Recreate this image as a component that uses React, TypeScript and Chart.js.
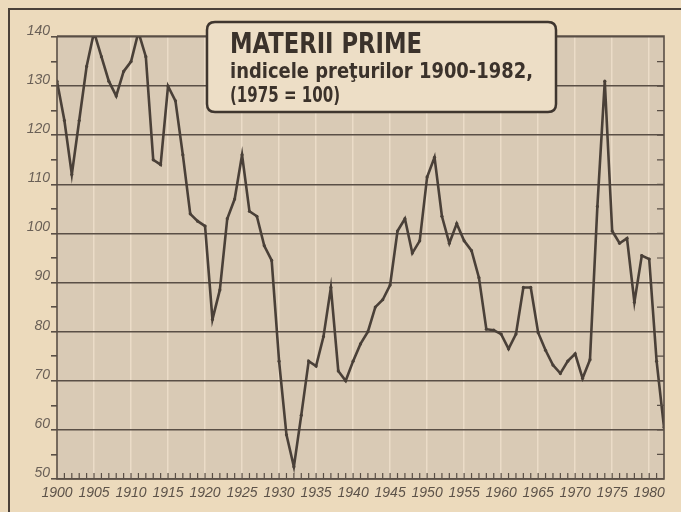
import React, { useEffect, useRef } from "react";
import { Chart, registerables } from "chart.js";

Chart.register(...registerables);

const years: number[] = [
  1900, 1901, 1902, 1903, 1904, 1905, 1906, 1907, 1908, 1909,
  1910, 1911, 1912, 1913, 1914, 1915, 1916, 1917, 1918, 1919,
  1920, 1921, 1922, 1923, 1924, 1925, 1926, 1927, 1928, 1929,
  1930, 1931, 1932, 1933, 1934, 1935, 1936, 1937, 1938, 1939,
  1940, 1941, 1942, 1943, 1944, 1945, 1946, 1947, 1948, 1949,
  1950, 1951, 1952, 1953, 1954, 1955, 1956, 1957, 1958, 1959,
  1960, 1961, 1962, 1963, 1964, 1965, 1966, 1967, 1968, 1969,
  1970, 1971, 1972, 1973, 1974, 1975, 1976, 1977, 1978, 1979,
  1980, 1981, 1982,
];

const priceIndex: number[] = [
  131, 123, 112, 123, 134, 141, 136, 131, 128, 133,
  135, 141, 136, 115, 114, 130, 127, 116, 104, 102.5,
  101.5, 82.5, 88.5, 103, 107, 116, 104.5, 103.5, 97.5, 94.5,
  74, 59, 52.5, 63, 74, 73, 79, 89, 72, 70,
  74, 77.5, 80, 85, 86.5, 89.5, 100.5, 103, 96, 98.5,
  111.5, 115.5, 103.5, 98, 102, 98.5, 96.5, 91, 80.5, 80.3,
  79.5, 76.5, 79.5, 89, 89, 79.8, 76.2, 73.2, 71.5, 74,
  75.5, 70.5, 74.3, 105.5, 131, 100.5, 98, 99, 86, 95.5,
  94.8, 74, 60.5,
];

const yTickValues: number[] = [50, 60, 70, 80, 90, 100, 110, 120, 130, 140];
const xLabelYears: number[] = [1900, 1905, 1910, 1915, 1920, 1925, 1930, 1935, 1940, 1945, 1950, 1955, 1960, 1965, 1970, 1975, 1980];

const titleLine1 = "MATERII PRIME";
const titleLine2 = "indicele preţurilor 1900-1982,";
const titleLine3 = "(1975 = 100)";

const PAGE_BG = "#ecdabc";
const PLOT_BG = "#d9cab5";
const STRIPE = "#ebdcc8";
const GRID = "#5a4f46";
const LINE = "#4a4038";
const LABEL = "#6a6057";

export default function App() {
  const ref = useRef<HTMLCanvasElement | null>(null);

  useEffect(() => {
    const canvas = ref.current;
    if (!canvas) return;

    const decor = {
      id: "decor",
      beforeDraw(chart: any) {
        const { ctx, chartArea } = chart;
        ctx.save();
        ctx.fillStyle = PLOT_BG;
        ctx.fillRect(chartArea.left, chartArea.top - 1, chartArea.right - chartArea.left, chartArea.bottom - chartArea.top + 1);
        ctx.restore();
      },
      afterDraw(chart: any) {
        const { ctx, chartArea } = chart;
        const xs = chart.scales.x;
        const ys = chart.scales.y;
        ctx.save();
        // outer frame (left and top)
        ctx.strokeStyle = "#4a4038";
        ctx.lineWidth = 2;
        ctx.beginPath();
        ctx.moveTo(9, 512);
        ctx.lineTo(9, 9);
        ctx.lineTo(681, 9);
        ctx.stroke();

        // plot frame
        ctx.strokeStyle = GRID;
        ctx.lineWidth = 1.6;
        ctx.beginPath();
        ctx.moveTo(chartArea.left, chartArea.top - 1);
        ctx.lineTo(chartArea.right, chartArea.top - 1);
        ctx.lineTo(chartArea.right, chartArea.bottom);
        ctx.lineTo(chartArea.left, chartArea.bottom);
        ctx.lineTo(chartArea.left, chartArea.top - 1);
        ctx.stroke();

        // year ticks on bottom axis (inside)
        ctx.lineWidth = 1.2;
        ctx.beginPath();
        for (let i = 1; i < years.length - 1; i++) {
          const px = xs.getPixelForValue(years[i]);
          ctx.moveTo(px, chartArea.bottom);
          ctx.lineTo(px, chartArea.bottom - 6);
        }
        ctx.stroke();

        // right side minor ticks
        ctx.beginPath();
        for (let v = 55; v < 140; v += 5) {
          const py = ys.getPixelForValue(v);
          ctx.moveTo(chartArea.right - 7, py);
          ctx.lineTo(chartArea.right, py);
        }
        ctx.stroke();

        // title box
        const bx = 207, by = 22, bw = 349, bh = 90, r = 8;
        ctx.beginPath();
        ctx.moveTo(bx + r, by);
        ctx.lineTo(bx + bw - r, by);
        ctx.quadraticCurveTo(bx + bw, by, bx + bw, by + r);
        ctx.lineTo(bx + bw, by + bh - r);
        ctx.quadraticCurveTo(bx + bw, by + bh, bx + bw - r, by + bh);
        ctx.lineTo(bx + r, by + bh);
        ctx.quadraticCurveTo(bx, by + bh, bx, by + bh - r);
        ctx.lineTo(bx, by + r);
        ctx.quadraticCurveTo(bx, by, bx + r, by);
        ctx.closePath();
        ctx.fillStyle = "#eddec6";
        ctx.fill();
        ctx.strokeStyle = "#3f362f";
        ctx.lineWidth = 2.5;
        ctx.stroke();

        const drawFit = (text: string, x: number, baseline: number, width: number, font: string) => {
          ctx.font = font;
          const w = ctx.measureText(text).width;
          ctx.save();
          ctx.translate(x, baseline);
          ctx.scale(width / w, 1);
          ctx.fillStyle = "#3b322b";
          ctx.textBaseline = "alphabetic";
          ctx.textAlign = "left";
          ctx.fillText(text, 0, 0);
          ctx.restore();
        };
        drawFit(titleLine1, 230, 53, 192, "bold 29px 'DejaVu Sans Condensed', 'DejaVu Sans', sans-serif");
        drawFit(titleLine2, 230, 78, 303, "bold 22px 'DejaVu Sans Condensed', 'DejaVu Sans', sans-serif");
        drawFit(titleLine3, 230, 102, 110, "bold 22px 'DejaVu Sans Condensed', 'DejaVu Sans', sans-serif");
        ctx.restore();
      },
    };

    const chart = new Chart(canvas, {
      type: "line",
      data: {
        labels: years,
        datasets: [
          {
            data: years.map((y, i) => ({ x: y, y: priceIndex[i] })),
            borderColor: LINE,
            backgroundColor: LINE,
            borderWidth: 2.6,
            pointRadius: 1.6,
            pointBorderWidth: 0,
            pointBackgroundColor: LINE,
            tension: 0,
          },
        ],
      },
      options: {
        animation: false,
        responsive: true,
        maintainAspectRatio: false,
        layout: { padding: { left: 0, right: 17, top: 37, bottom: 0 } },
        plugins: { legend: { display: false }, tooltip: { enabled: false }, title: { display: false } },
        scales: {
          x: {
            type: "linear",
            min: 1900,
            max: 1982,
            afterFit: (s: any) => { s.height = 33; },
            afterBuildTicks: (s: any) => { s.ticks = years.map((v) => ({ value: v })); },
            border: { display: false },
            grid: {
              drawTicks: false,
              lineWidth: 1.5,
              color: (c: any) => (c.tick && xLabelYears.includes(c.tick.value) && c.tick.value !== 1900 ? STRIPE : "rgba(0,0,0,0)"),
            },
            ticks: {
              autoSkip: false,
              maxRotation: 0,
              padding: 6,
              color: "#5c5249",
              font: { family: "'Liberation Sans', Arial, sans-serif", size: 14, style: "italic" },
              callback: (v: any) => (xLabelYears.includes(Number(v)) ? String(v) : ""),
            },
          },
          y: {
            min: 50,
            max: 140,
            afterFit: (s: any) => { s.width = 57; },
            afterBuildTicks: (s: any) => {
              const t: any[] = [];
              for (const v of yTickValues) {
                t.push({ value: v });
                if (v < 140) t.push({ value: v + 5 });
              }
              s.ticks = t;
            },
            border: { display: false },
            grid: {
              drawTicks: true,
              tickLength: 6,
              lineWidth: 1.6,
              color: (c: any) => (c.tick && yTickValues.includes(c.tick.value) ? GRID : "rgba(0,0,0,0)"),
              tickColor: GRID,
            },
            ticks: {
              autoSkip: false,
              padding: 1,
              labelOffset: -6,
              color: LABEL,
              font: { family: "'Liberation Sans', Arial, sans-serif", size: 14, style: "italic" },
              callback: (v: any) => (yTickValues.includes(Number(v)) ? String(v) : ""),
            },
          },
        },
      },
      plugins: [decor],
    } as any);

    return () => chart.destroy();
  }, []);

  return (
    <div style={{ position: "fixed", left: 0, top: 0, width: 681, height: 512, background: PAGE_BG }}>
      <canvas ref={ref} />
    </div>
  );
}
